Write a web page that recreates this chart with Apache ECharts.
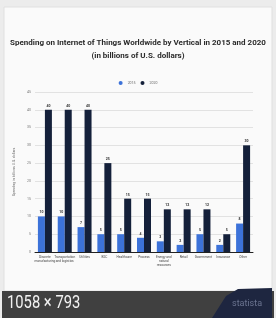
<!DOCTYPE html>
<html>
<head>
<meta charset="utf-8">
<script src="https://cdn.jsdelivr.net/npm/echarts@6/dist/echarts.min.js"></script>
<style>
  html, body { margin: 0; padding: 0; background: #ececec; }
  #chart { width: 276px; height: 318px; }
</style>
</head>
<body>
<div id="chart"></div>
<script>
// data
const categories = [
  "Discrete\nmanufacturing", "Transportation\nand logistics", "Utilities", "B2C",
  "Healthcare", "Process", "Energy and\nnatural\nresources", "Retail",
  "Government", "Insurance", "Other"
];
const years = ["2015", "2020"];
const spend2015 = [10, 10, 7, 5, 5, 4, 3, 2, 5, 2, 8];
const spend2020 = [40, 40, 40, 25, 15, 15, 12, 12, 12, 5, 30];
const yTicks = { min: 0, max: 45, interval: 5 };

var myChart = echarts.init(document.getElementById("chart"));
var option;

option = {
  backgroundColor: "#ececec",
  animation: false,
  textStyle: { fontFamily: "Roboto" },
  title: {
    text: "Spending on Internet of Things Worldwide by Vertical in 2015 and 2020\n(in billions of U.S. dollars)",
    left: "center",
    top: 31,
    textStyle: {
      fontSize: 8,
      fontWeight: "bold",
      color: "#2a2a2a",
      lineHeight: 13,
    },
  },
  legend: {
    data: years,
    top: 76,
    left: "center",
    icon: "circle",
    itemWidth: 4,
    itemHeight: 4,
    itemGap: 5,
    textStyle: { fontSize: 3.5, color: "#666" },
  },
  grid: {
    left: 35,
    right: 23,
    top: 92,
    bottom: 66,
  },
  xAxis: {
    type: "category",
    data: categories,
    axisLine: { lineStyle: { color: "#222", width: 1 } },
    axisTick: { show: false },
    axisLabel: {
      interval: 0,
      fontSize: 3.2,
      lineHeight: 4,
      color: "#444",
      margin: 3,
    },
  },
  yAxis: {
    type: "value",
    min: yTicks.min,
    max: yTicks.max,
    interval: yTicks.interval,
    name: "Spending in billions U.S. dollars",
    nameLocation: "middle",
    nameGap: 9,
    nameTextStyle: { fontSize: 3.5, color: "#666" },
    axisLabel: { fontSize: 3.5, color: "#777", margin: 4 },
    splitLine: { lineStyle: { color: "#e2e2e2", width: 1 } },
    axisLine: { show: false },
    axisTick: { show: false },
  },
  series: [
    {
      name: "2015",
      type: "bar",
      data: spend2015,
      barWidth: 7,
      barGap: "0%",
      itemStyle: { color: "#3c72d9" },
      label: { show: true, position: "top", fontSize: 3.5, fontWeight: "bold", color: "#333", distance: 2 },
    },
    {
      name: "2020",
      type: "bar",
      data: spend2020,
      barWidth: 7,
      itemStyle: { color: "#14203a" },
      label: { show: true, position: "top", fontSize: 3.5, fontWeight: "bold", color: "#333", distance: 2 },
    },
  ],
  graphic: [
    {
      type: "rect",
      z: -10,
      shape: { x: 4, y: 7, width: 268, height: 284 },
      style: { fill: "#fafafa", stroke: "#e0e0e0", lineWidth: 1 },
    },
    {
      type: "rect",
      z: 10,
      shape: { x: 2, y: 291, width: 272, height: 27 },
      style: { fill: "#404040" },
    },
    {
      type: "polygon",
      z: 11,
      shape: { points: [[212, 318], [226, 296], [238, 289], [272, 288], [272, 318]] },
      style: { fill: "#1e2640" },
    },
    {
      type: "text",
      z: 12,
      x: 7,
      y: 294,
      scaleX: 0.82,
      style: { text: "1058 × 793", fontSize: 18, fill: "#f2f2f2", fontFamily: "Roboto" },
    },
    {
      type: "text",
      z: 12,
      left: 232,
      top: 299,
      style: { text: "statista", fontSize: 9, fill: "#6b7490", fontFamily: "Roboto" },
    },
  ],
};

option && myChart.setOption(option);
</script>
</body>
</html>
